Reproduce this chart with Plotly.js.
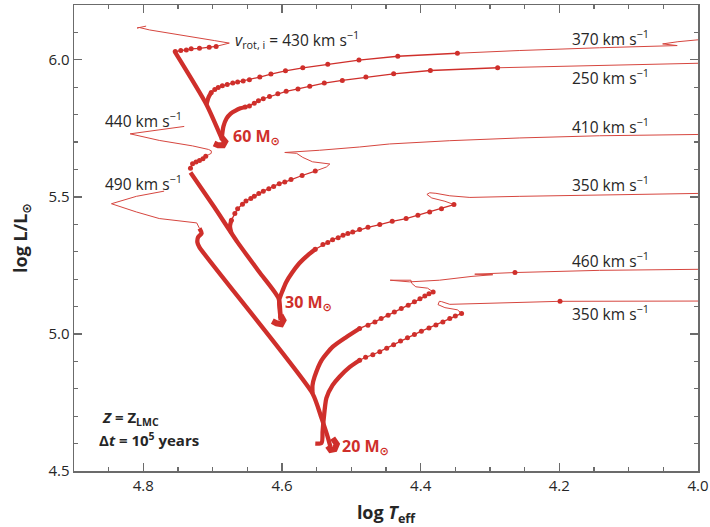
<!DOCTYPE html>
<html>
<head>
<meta charset="utf-8">
<script src="https://cdn.plot.ly/plotly-3.0.1.min.js"></script>
<style>html,body{margin:0;padding:0;background:#fff;}</style>
</head>
<body>
<div id="chart" style="width:710px;height:527px;"></div>
<script>
// ---------- data (log Teff, log L/Lsun) ----------
// 60 Msun
const zams60T = [4.698, 4.692, 4.685, 4.682, 4.687];
const zams60L = [5.695, 5.688, 5.688, 5.702, 5.717];
const v430ThickT = [4.687, 4.709, 4.754];
const v430ThickL = [5.713, 5.837, 6.027];
const v430DotsT = [4.754, 4.746, 4.738, 4.731, 4.719, 4.705, 4.695];
const v430DotsL = [6.030, 6.034, 6.036, 6.040, 6.042, 6.046, 6.049];
const v430ThinT = [4.695, 4.679, 4.676, 4.697, 4.719, 4.762, 4.791, 4.806, 4.809, 4.796];
const v430ThinL = [6.049, 6.058, 6.061, 6.070, 6.079, 6.095, 6.109, 6.118, 6.116, 6.123];

const v370ThickT = [4.709, 4.706, 4.702];
const v370ThickL = [5.837, 5.863, 5.881];
const v370DotsT = [4.702, 4.697, 4.692, 4.686, 4.679, 4.671, 4.664, 4.656, 4.647, 4.632, 4.616, 4.595, 4.570, 4.534, 4.489, 4.433, 4.347];
const v370DotsL = [5.881, 5.892, 5.899, 5.905, 5.910, 5.915, 5.919, 5.923, 5.927, 5.937, 5.948, 5.960, 5.971, 5.984, 5.999, 6.013, 6.024];
const v370ThinT = [4.347, 4.257, 4.142, 4.030, 4.051, 4.029, 4.000, 3.990];
const v370ThinL = [6.024, 6.034, 6.044, 6.052, 6.058, 6.066, 6.073, 6.075];

const v250ThickT = [4.687, 4.6845, 4.680, 4.674, 4.667, 4.660, 4.653];
const v250ThickL = [5.713, 5.757, 5.786, 5.804, 5.815, 5.823, 5.828];
const v250DotsT = [4.653, 4.647, 4.640, 4.634, 4.627, 4.618, 4.606, 4.594, 4.577, 4.560, 4.539, 4.513, 4.479, 4.439, 4.386, 4.289];
const v250DotsL = [5.828, 5.832, 5.842, 5.851, 5.858, 5.866, 5.876, 5.885, 5.894, 5.904, 5.915, 5.925, 5.937, 5.949, 5.961, 5.971];
const v250ThinT = [4.289, 4.142, 4.000, 3.990];
const v250ThinL = [5.971, 5.979, 5.988, 5.988];

// 30 Msun
const zams30T = [4.614, 4.608, 4.601, 4.598, 4.602];
const zams30L = [5.047, 5.039, 5.036, 5.050, 5.068];
const v440ThickT = [4.602, 4.605, 4.6325, 4.664, 4.6975, 4.732];
const v440ThickL = [5.050, 5.130, 5.225, 5.334, 5.462, 5.589];
const v440DotsT = [4.732, 4.729, 4.724, 4.719, 4.714, 4.710];
const v440DotsL = [5.604, 5.621, 5.627, 5.633, 5.639, 5.648];
const v440ThinT = [4.710, 4.702, 4.702, 4.706, 4.729, 4.777, 4.819, 4.791, 4.741];
const v440ThinL = [5.648, 5.659, 5.668, 5.673, 5.686, 5.706, 5.730, 5.739, 5.757];

const v410ThickT = [4.673, 4.675, 4.673];
const v410ThickL = [5.367, 5.393, 5.415];
const v410DotsT = [4.673, 4.668, 4.664, 4.657, 4.652, 4.645, 4.640, 4.6335, 4.627, 4.619, 4.612, 4.604, 4.596, 4.587, 4.571, 4.552];
const v410DotsL = [5.415, 5.439, 5.457, 5.473, 5.485, 5.494, 5.502, 5.512, 5.521, 5.530, 5.538, 5.548, 5.554, 5.563, 5.578, 5.594];
const v410ThinT = [4.552, 4.536, 4.531, 4.556, 4.570, 4.579, 4.596, 4.575, 4.546, 4.488, 4.445, 4.358, 4.257, 4.142, 4.000, 3.990];
const v410ThinL = [5.594, 5.609, 5.620, 5.628, 5.644, 5.659, 5.662, 5.665, 5.670, 5.682, 5.693, 5.705, 5.715, 5.723, 5.728, 5.728];

const v350aThickT = [4.602, 4.604, 4.599, 4.594, 4.585, 4.575, 4.563, 4.552];
const v350aThickL = [5.057, 5.123, 5.159, 5.189, 5.225, 5.258, 5.287, 5.309];
const v350aDotsT = [4.552, 4.541, 4.534, 4.527, 4.519, 4.512, 4.505, 4.498, 4.488, 4.476, 4.459, 4.441, 4.421, 4.404, 4.387, 4.370, 4.352];
const v350aDotsL = [5.309, 5.326, 5.334, 5.344, 5.351, 5.360, 5.366, 5.372, 5.381, 5.389, 5.399, 5.411, 5.421, 5.433, 5.445, 5.457, 5.472];
const v350aThinT = [4.352, 4.365, 4.384, 4.391, 4.387, 4.378, 4.358, 4.329, 4.257, 4.142, 4.000, 3.990];
const v350aThinL = [5.472, 5.484, 5.496, 5.509, 5.515, 5.513, 5.504, 5.498, 5.502, 5.507, 5.513, 5.513];

// 20 Msun
const hook20T = [4.552, 4.543, 4.5415];
const hook20L = [4.600, 4.602, 4.642];
const zams20T = [4.534, 4.530, 4.524, 4.521, 4.527];
const zams20L = [4.591, 4.577, 4.580, 4.598, 4.620];
const v490ThickT = [4.530, 4.534, 4.543, 4.556, 4.719, 4.722, 4.721, 4.716, 4.719];
const v490ThickL = [4.587, 4.624, 4.693, 4.783, 5.316, 5.334, 5.353, 5.367, 5.385];
const v490ThinT = [4.719, 4.723, 4.777, 4.810, 4.846, 4.810, 4.770];
const v490ThinL = [5.385, 5.405, 5.421, 5.445, 5.475, 5.502, 5.521];

const v460ThickT = [4.556, 4.556, 4.553, 4.543, 4.527, 4.507, 4.488];
const v460ThickL = [4.783, 4.813, 4.844, 4.904, 4.953, 4.989, 5.020];
const v460DotsT = [4.488, 4.476, 4.466, 4.457, 4.447, 4.438, 4.428, 4.418, 4.409, 4.401, 4.394, 4.388, 4.382];
const v460DotsL = [5.020, 5.032, 5.044, 5.056, 5.068, 5.080, 5.093, 5.105, 5.117, 5.128, 5.138, 5.147, 5.153];
const v460ThinT = [4.382, 4.390, 4.407, 4.413, 4.414, 4.442, 4.444, 4.416, 4.373, 4.326, 4.296, 4.322, 4.300, 4.264, 4.142, 4.000, 3.990];
const v460ThinL = [5.153, 5.167, 5.172, 5.185, 5.196, 5.198, 5.196, 5.190, 5.196, 5.210, 5.216, 5.218, 5.220, 5.224, 5.232, 5.236, 5.236];

const v350bThickT = [4.5415, 4.540, 4.536, 4.527, 4.517, 4.5025, 4.488];
const v350bThickL = [4.642, 4.686, 4.766, 4.813, 4.844, 4.879, 4.904];
const v350bDotsT = [4.488, 4.4794, 4.469, 4.459, 4.449, 4.439, 4.429, 4.419, 4.409, 4.399, 4.388, 4.378, 4.368, 4.358, 4.350, 4.341];
const v350bDotsL = [4.904, 4.915, 4.924, 4.935, 4.948, 4.961, 4.974, 4.986, 4.998, 5.010, 5.022, 5.033, 5.044, 5.056, 5.065, 5.075];
const v350bThinT = [4.341, 4.347, 4.365, 4.375, 4.373, 4.370, 4.358, 4.321, 4.199, 4.000, 3.990];
const v350bThinL = [5.075, 5.088, 5.096, 5.107, 5.119, 5.118, 5.108, 5.110, 5.119, 5.120, 5.120];

const lateDotsT = [4.264, 4.199];
const lateDotsL = [5.224, 5.119];

// labels
const velLabels = ['370 km s<sup>−1</sup>', '250 km s<sup>−1</sup>', '410 km s<sup>−1</sup>', '350 km s<sup>−1</sup>', '460 km s<sup>−1</sup>', '350 km s<sup>−1</sup>', '440 km s<sup>−1</sup>', '490 km s<sup>−1</sup>', '<i>v</i><sub>rot, i</sub> = 430 km s<sup>−1</sup>'];
const velLabelT = [4.184, 4.184, 4.184, 4.184, 4.184, 4.184, 4.858, 4.858, 4.671];
const velLabelL = [6.078, 5.939, 5.757, 5.546, 5.269, 5.077, 5.779, 5.551, 6.075];
const massLabels = ['60 M<sub>⊙</sub>', '30 M<sub>⊙</sub>', '20 M<sub>⊙</sub>'];
const massLabelT = [4.673, 4.598, 4.516];
const massLabelL = [5.721, 5.116, 4.591];

// ---------- styling ----------
const RED = '#cf2f2b';
const THIN = '#d6463f';
const FONT = 'Open Sans, DejaVu Sans, sans-serif';
const INK = '#262626';

function thick(x, y) {
  return {x: x, y: y, type: 'scatter', mode: 'lines', line: {color: RED, width: 4.3, shape: 'spline', smoothing: 0.6},
          hoverinfo: 'skip', showlegend: false};
}
function dots(x, y) {
  return {x: x, y: y, type: 'scatter', mode: 'lines+markers', line: {color: RED, width: 1.3},
          marker: {color: RED, size: 5}, hoverinfo: 'skip', showlegend: false};
}
function thin(x, y) {
  return {x: x, y: y, type: 'scatter', mode: 'lines', line: {color: THIN, width: 1},
          hoverinfo: 'skip', showlegend: false};
}
function blob(x, y) {
  return {x: x, y: y, type: 'scatter', mode: 'lines', line: {color: RED, width: 6},
          hoverinfo: 'skip', showlegend: false};
}

const traces = [
  thin(v430ThinT, v430ThinL), thin(v370ThinT, v370ThinL), thin(v250ThinT, v250ThinL),
  thin(v440ThinT, v440ThinL), thin(v410ThinT, v410ThinL), thin(v350aThinT, v350aThinL),
  thin(v490ThinT, v490ThinL), thin(v460ThinT, v460ThinL), thin(v350bThinT, v350bThinL),
  dots(v430DotsT, v430DotsL), dots(v370DotsT, v370DotsL), dots(v250DotsT, v250DotsL),
  dots(v440DotsT, v440DotsL), dots(v410DotsT, v410DotsL), dots(v350aDotsT, v350aDotsL),
  dots(v460DotsT, v460DotsL), dots(v350bDotsT, v350bDotsL),
  thick(v430ThickT, v430ThickL), thick(v370ThickT, v370ThickL), thick(v250ThickT, v250ThickL),
  thick(v440ThickT, v440ThickL), thick(v410ThickT, v410ThickL), thick(v350aThickT, v350aThickL),
  thick(v490ThickT, v490ThickL), thick(v460ThickT, v460ThickL), thick(v350bThickT, v350bThickL),
  blob(zams60T, zams60L), blob(zams30T, zams30L), blob(zams20T, zams20L), thick(hook20T, hook20L),
  {x: lateDotsT, y: lateDotsL, type: 'scatter', mode: 'markers', marker: {color: RED, size: 5}, hoverinfo: 'skip', showlegend: false}
];

const annotations = [];
for (let i = 0; i < velLabels.length; i++) {
  annotations.push({x: velLabelT[i], y: velLabelL[i], xref: 'x', yref: 'y', text: velLabels[i],
    showarrow: false, xanchor: 'left', yanchor: 'middle', font: {family: FONT, size: 15.5, color: INK}});
}
for (let i = 0; i < massLabels.length; i++) {
  annotations.push({x: massLabelT[i], y: massLabelL[i], xref: 'x', yref: 'y', text: '<b>' + massLabels[i] + '</b>',
    showarrow: false, xanchor: 'left', yanchor: 'middle', font: {family: FONT, size: 16, color: RED}});
}
annotations.push({x: 4.862, y: 4.692, xref: 'x', yref: 'y', text: '<b><i>Z</i> = Z<sub>LMC</sub></b>',
  showarrow: false, xanchor: 'left', yanchor: 'middle', font: {family: FONT, size: 15, color: INK}});
annotations.push({x: 4.867, y: 4.616, xref: 'x', yref: 'y', text: '<b>Δ<i>t</i> = 10<sup>5</sup> years</b>',
  showarrow: false, xanchor: 'left', yanchor: 'middle', font: {family: FONT, size: 15, color: INK}});

const axisCommon = {
  showline: true, linecolor: '#6b6b6b', linewidth: 1.5, mirror: 'allticks',
  ticks: 'inside', ticklen: 8, tickwidth: 1.3, tickcolor: '#6b6b6b',
  showgrid: false, zeroline: false, tickformat: '.1f',
  tickfont: {family: FONT, size: 15, color: INK}
};

const layout = {
  width: 710, height: 527,
  margin: {l: 74, r: 12, t: 5, b: 56},
  paper_bgcolor: '#ffffff', plot_bgcolor: '#ffffff',
  showlegend: false,
  xaxis: Object.assign({}, axisCommon, {
    range: [4.9, 4.0], tick0: 4.0, dtick: 0.2,
    minor: {dtick: 0.05, tick0: 4.0, ticks: 'inside', ticklen: 4, tickcolor: '#6b6b6b', tickwidth: 1.2},
    title: {text: '<b>log <i>T</i><sub>eff</sub></b>', font: {family: FONT, size: 18, color: INK}, standoff: 13}
  }),
  yaxis: Object.assign({}, axisCommon, {
    range: [4.5, 6.2], tick0: 4.5, dtick: 0.5,
    minor: {dtick: 0.1, tick0: 4.5, ticks: 'inside', ticklen: 4, tickcolor: '#6b6b6b', tickwidth: 1.2},
    title: {text: '<b>log L/L<sub>⊙</sub></b>', font: {family: FONT, size: 18, color: INK}, standoff: 16}
  }),
  annotations: annotations
};

Plotly.newPlot('chart', traces, layout, {displayModeBar: false, staticPlot: true});
</script>
</body>
</html>
